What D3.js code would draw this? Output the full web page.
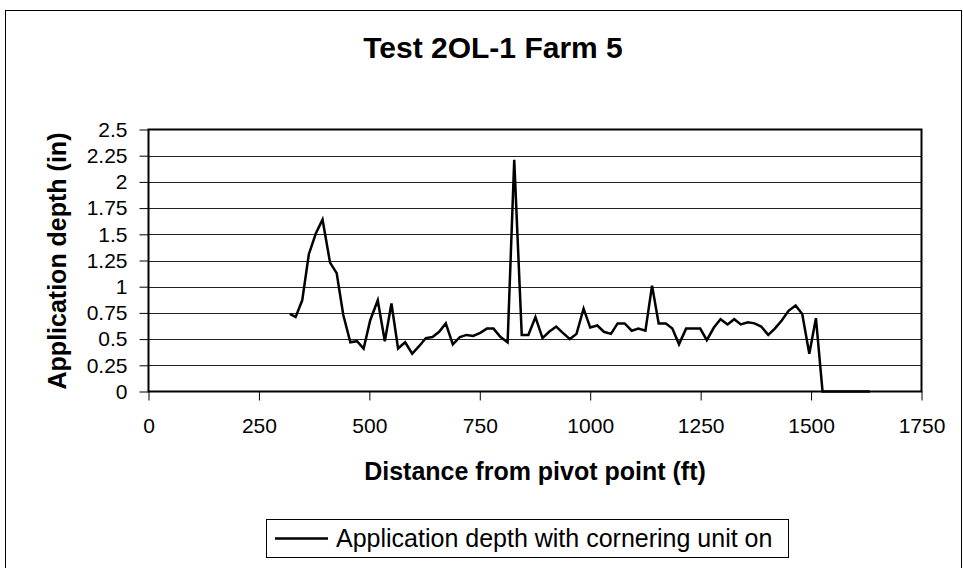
<!DOCTYPE html>
<html>
<head>
<meta charset="utf-8">
<script src="https://cdn.jsdelivr.net/npm/d3@7"></script>
<style>
  body { margin: 0; background: #fff; }
  svg text { font-family: "Liberation Sans", Arial, sans-serif; fill: #000; }
</style>
</head>
<body>
<svg width="963" height="568"></svg>
<script>
// distance from pivot point (ft)
const distance = [320, 333, 348, 363, 379, 394, 411, 426, 441, 457, 472, 487, 502, 519, 535, 550, 565, 581, 597, 612,
  628, 643, 658, 673, 689, 705, 720, 735, 751, 766, 781, 797, 813, 828, 845, 860, 876, 892, 907, 923,
  938, 954, 969, 985, 1000, 1016, 1031, 1047, 1062, 1078, 1094, 1109, 1125, 1140, 1155, 1171, 1186, 1201, 1217, 1233,
  1249, 1264, 1280, 1295, 1311, 1326, 1341, 1357, 1372, 1387, 1403, 1418, 1434, 1449, 1465, 1480, 1496, 1511, 1526,
  1541, 1557, 1572, 1587, 1603, 1618, 1633];
// application depth (in)
const depth = [0.74, 0.71, 0.87, 1.31, 1.51, 1.64, 1.23, 1.13, 0.73, 0.47, 0.48, 0.41, 0.68, 0.87, 0.48, 0.84, 0.41, 0.47, 0.36, 0.43,
  0.51, 0.52, 0.57, 0.65, 0.45, 0.52, 0.54, 0.53, 0.56, 0.60, 0.60, 0.52, 0.47, 2.21, 0.54, 0.54, 0.71, 0.51, 0.57, 0.62,
  0.56, 0.50, 0.55, 0.79, 0.61, 0.63, 0.57, 0.55, 0.65, 0.65, 0.58, 0.60, 0.58, 1.01, 0.65, 0.65, 0.60, 0.45, 0.60, 0.60,
  0.60, 0.49, 0.61, 0.69, 0.64, 0.69, 0.64, 0.66, 0.65, 0.62, 0.54, 0.60, 0.68, 0.77, 0.82, 0.74, 0.36, 0.70, 0,
  0, 0, 0, 0, 0, 0, 0];
const xTicks = [0, 250, 500, 750, 1000, 1250, 1500, 1750];
const yTicks = [0, 0.25, 0.5, 0.75, 1, 1.25, 1.5, 1.75, 2, 2.25, 2.5];
const seriesName = "Application depth with cornering unit on";

const svg = d3.select("svg");
const pL = 148.5, pR = 921.5, pT = 129.5, pB = 391.5;

// chart border
svg.append("rect").attr("x", 5.5).attr("y", 10.5).attr("width", 956).attr("height", 570)
   .attr("fill", "none").attr("stroke", "#000").attr("stroke-width", 1);

const x = d3.scaleLinear().domain([0, 1750]).range([pL, pR]);
const y = d3.scaleLinear().domain([0, 2.5]).range([pB, pT]);

// gridlines
svg.append("g").selectAll("line")
   .data(yTicks.filter(d => d > 0 && d < 2.5))
   .enter().append("line")
   .attr("x1", pL).attr("x2", pR)
   .attr("y1", d => Math.round(y(d)) + 0.5).attr("y2", d => Math.round(y(d)) + 0.5)
   .attr("stroke", "#222").attr("stroke-width", 1);

// y axis
const yAxis = svg.append("g").attr("transform", `translate(${pL},0)`)
   .call(d3.axisLeft(y).tickValues(yTicks).tickFormat(d3.format("")).tickSize(9).tickPadding(12));
yAxis.select(".domain").remove();
yAxis.selectAll("line").attr("stroke", "#000");
yAxis.selectAll("text").style("font-size", "21px").attr("font-family", null);

// x axis
const xAxis = svg.append("g").attr("transform", `translate(0,${pB})`)
   .call(d3.axisBottom(x).tickValues(xTicks).tickFormat(d3.format("")).tickSize(9).tickPadding(18));
xAxis.select(".domain").remove();
xAxis.selectAll("line").attr("stroke", "#000");
xAxis.selectAll("text").style("font-size", "21px").attr("font-family", null);

// plot frame
svg.append("rect").attr("x", pL).attr("y", pT).attr("width", pR - pL).attr("height", pB - pT)
   .attr("fill", "none").attr("stroke", "#000").attr("stroke-width", 2);

// data line
const line = d3.line().x((d, i) => x(distance[i])).y(d => y(d));
svg.append("path").datum(depth)
   .attr("d", line)
   .attr("fill", "none").attr("stroke", "#000").attr("stroke-width", 2.5)
   .attr("stroke-linejoin", "miter");

// title
svg.append("text").attr("x", 493).attr("y", 58)
   .attr("text-anchor", "middle").style("font-size", "30px").style("font-weight", "bold")
   .text("Test 2OL-1 Farm 5");

// axis titles
svg.append("text").attr("x", (pL + pR) / 2).attr("y", 480)
   .attr("text-anchor", "middle").style("font-size", "25px").style("font-weight", "bold")
   .text("Distance from pivot point (ft)");
svg.append("text").attr("transform", "translate(66,261) rotate(-90)")
   .attr("text-anchor", "middle").style("font-size", "25px").style("font-weight", "bold")
   .text("Application depth (in)");

// legend
const lg = svg.append("g");
lg.append("rect").attr("x", 266.5).attr("y", 519.5).attr("width", 522).attr("height", 38)
  .attr("fill", "#fff").attr("stroke", "#000").attr("stroke-width", 1);
lg.append("line").attr("x1", 275).attr("x2", 328).attr("y1", 538.5).attr("y2", 538.5)
  .attr("stroke", "#000").attr("stroke-width", 2.5);
lg.append("text").attr("x", 336).attr("y", 547).style("font-size", "25px").text(seriesName);
</script>
</body>
</html>
